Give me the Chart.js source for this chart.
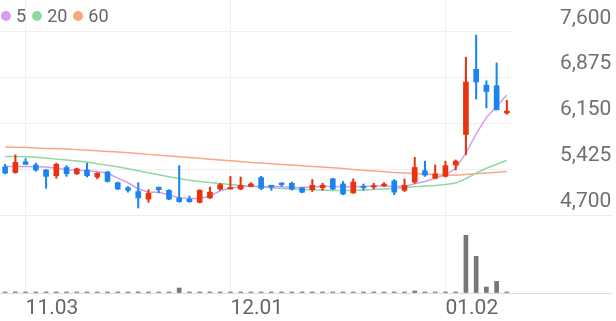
<!DOCTYPE html>
<html>
<head>
<meta charset="utf-8">
<script src="https://cdn.jsdelivr.net/npm/chart.js"></script>
<style>
  body { margin: 0; background: #fff; }
  #wrap { position: relative; width: 616px; height: 321px; }
  #chart { display: block; }
  #legend { position: absolute; left: 1px; top: 5px; display: flex; align-items: center; font: 18px Roboto, sans-serif; color: #666; }
  #legend .item { display: flex; align-items: center; margin-right: 6px; }
  #legend .dot { display: inline-block; width: 10px; height: 10px; border-radius: 50%; margin-right: 5px; }
</style>
</head>
<body>
<div id="wrap">
  <canvas id="chart" width="616" height="321"></canvas>
  <div id="legend"></div>
</div>
<script>
const dates = ['10.30','10.31','11.03','11.04','11.05','11.06','11.07','11.10','11.11','11.12',
  '11.13','11.14','11.17','11.18','11.19','11.20','11.21','11.24','11.25','11.26',
  '11.27','11.28','12.01','12.02','12.03','12.04','12.05','12.08','12.09','12.10',
  '12.11','12.12','12.15','12.16','12.17','12.18','12.19','12.22','12.23','12.24',
  '12.26','12.29','12.30','01.02','01.05','01.06','01.07','01.08','01.09','01.12'];
const tickDates = ['11.03', '12.01', '01.02'];
const priceTicks = [4700, 5425, 6150, 6875, 7600];

const opens = [5460, 5370, 5540, 5490, 5410, 5320, 5450, 5350, 5410, 5300,
  5380, 5210, 5130, 5070, 4950, 5140, 5090, 4970, 4950, 4900,
  4970, 5110, 5110, 5110, 5150, 5290, 5170, 5200, 5200, 5130,
  5100, 5130, 5270, 5190, 5050, 5150, 5140, 5160, 5240, 5090,
  5220, 5400, 5280, 5310, 5490, 5970, 7000, 6750, 6740, 6310];
const highs = [5500, 5650, 5590, 5520, 5420, 5520, 5480, 5440, 5520, 5370,
  5390, 5220, 5150, 5210, 5100, 5140, 5100, 5480, 5000, 5100,
  5140, 5200, 5310, 5300, 5210, 5310, 5170, 5210, 5220, 5140,
  5260, 5200, 5280, 5230, 5270, 5190, 5200, 5210, 5260, 5270,
  5610, 5550, 5490, 5550, 5570, 7190, 7540, 6820, 7100, 6510];
const lows = [5350, 5360, 5500, 5390, 5120, 5280, 5310, 5340, 5300, 5270,
  5220, 5100, 5060, 4810, 4900, 5050, 4940, 4900, 4900, 4890,
  4960, 5090, 5110, 5100, 5150, 5100, 5090, 5150, 5090, 5050,
  5070, 5090, 5100, 5020, 5040, 5090, 5110, 5150, 5020, 5070,
  5200, 5310, 5270, 5300, 5410, 5650, 6530, 6390, 6360, 6290];
const closes = [5360, 5530, 5500, 5410, 5310, 5500, 5350, 5430, 5320, 5360,
  5230, 5110, 5090, 4970, 5040, 5100, 4950, 4910, 4910, 5090,
  5060, 5180, 5130, 5170, 5190, 5120, 5140, 5180, 5110, 5060,
  5170, 5170, 5110, 5030, 5220, 5130, 5160, 5190, 5060, 5170,
  5450, 5330, 5350, 5480, 5550, 6800, 6800, 6650, 6360, 6340];

const ma5 = [5466, 5466, 5466, 5461, 5456, 5437, 5414, 5406, 5398, 5387,
  5362, 5283, 5209, 5114, 5059, 5059, 5020, 4968, 4962, 4962,
  4996, 5083, 5125, 5141, 5157, 5151, 5151, 5146, 5138, 5135,
  5141, 5151, 5151, 5146, 5146, 5151, 5157, 5157, 5151, 5151,
  5193, 5229, 5283, 5335, 5437, 5677, 5981, 6241, 6411, 6596];
const ma20 = [5623, 5622, 5619, 5611, 5598, 5582, 5567, 5552, 5535, 5508,
  5485, 5461, 5430, 5398, 5367, 5335, 5304, 5275, 5248, 5229,
  5214, 5196, 5182, 5166, 5151, 5141, 5130, 5119, 5110, 5103,
  5099, 5094, 5088, 5088, 5088, 5094, 5103, 5110, 5119, 5130,
  5146, 5157, 5166, 5182, 5204, 5272, 5362, 5437, 5501, 5564];
const ma60 = [5772, 5768, 5764, 5757, 5751, 5745, 5740, 5732, 5723, 5713,
  5704, 5693, 5682, 5669, 5657, 5644, 5631, 5619, 5606, 5594,
  5579, 5567, 5556, 5543, 5530, 5519, 5508, 5497, 5488, 5477,
  5466, 5456, 5445, 5433, 5420, 5408, 5395, 5382, 5371, 5362,
  5354, 5346, 5338, 5332, 5327, 5338, 5351, 5362, 5374, 5387];

// volume in thousand shares (scale has no labels)
const volumes = [12, 14, 10, 11, 13, 12, 9, 12, 10, 11,
  12, 13, 11, 14, 10, 9, 12, 64, 11, 10,
  12, 9, 10, 11, 12, 10, 9, 11, 10, 12,
  11, 10, 9, 12, 11, 10, 9, 11, 12, 10,
  26, 11, 10, 12, 11, 740, 470, 77, 150, 13];
const volumeMax = 1000;

const maLabels = ['5', '20', '60'];
const maColors = ['#d69cf0', '#8ed8a2', '#f7a882'];
const UP = '#e8330f';
const DOWN = '#1a85f0';
const FONT = 'Roboto';
const AXIS_W = 100;
const XAXIS_H = 28;

const candleColors = closes.map((c, i) => c >= opens[i] ? UP : DOWN);

// legend
const legendEl = document.getElementById('legend');
maLabels.forEach((name, i) => {
  const item = document.createElement('span');
  item.className = 'item';
  item.innerHTML = `<span class="dot" style="background:${maColors[i]}"></span>${name}`;
  legendEl.appendChild(item);
});

const maSeries = [ma5, ma20, ma60];

// keep the axes from pushing the plot area around
function tightFit(scale) {
  scale.paddingTop = 0;
  scale.paddingBottom = 0;
  scale.paddingLeft = 0;
  scale.paddingRight = 0;
  if (scale.isHorizontal()) scale.height = XAXIS_H;
  else scale.width = AXIS_W;
}

new Chart(document.getElementById('chart'), {
  type: 'bar',
  data: {
    labels: dates,
    datasets: [
      {
        label: 'body',
        data: opens.map((o, i) => [o, closes[i]]),
        backgroundColor: candleColors,
        barThickness: 5,
        minBarLength: 1.5,
        grouped: false,
        yAxisID: 'y',
        order: 1
      },
      {
        label: 'wick',
        data: lows.map((l, i) => [l, highs[i]]),
        backgroundColor: candleColors,
        barThickness: 1.4,
        grouped: false,
        yAxisID: 'y',
        order: 2
      },
      ...maSeries.map((s, i) => ({
        type: 'line',
        label: 'MA' + maLabels[i],
        data: s,
        borderColor: maColors[i],
        borderWidth: 1.5,
        pointRadius: 0,
        tension: 0,
        yAxisID: 'y',
        order: 3
      })),
      {
        label: 'volume',
        data: volumes,
        backgroundColor: '#777',
        barThickness: 4,
        minBarLength: 1,
        grouped: false,
        yAxisID: 'yv',
        order: 4
      }
    ]
  },
  options: {
    responsive: false,
    animation: false,
    devicePixelRatio: 1,
    layout: { padding: { right: 4 }, autoPadding: false },
    plugins: {
      legend: { display: false },
      tooltip: { enabled: false }
    },
    scales: {
      x: {
        offset: true,
        grid: { offset: false, color: '#efefef', drawTicks: false },
        border: { display: false },
        ticks: {
          autoSkip: false,
          maxRotation: 0,
          align: 'start',
          padding: 3,
          color: '#666',
          font: { family: FONT, size: 21 },
          callback: (v) => dates[v]
        },
        afterBuildTicks: (scale) => {
          scale.ticks = scale.ticks.filter(t => tickDates.includes(dates[t.value]));
        },
        afterFit: tightFit
      },
      y: {
        position: 'right',
        stack: 'panels',
        stackWeight: 215,
        min: 4700,
        max: 8094,
        grid: { color: '#efefef', drawTicks: false },
        border: { display: false },
        ticks: {
          autoSkip: false,
          color: '#707070',
          padding: 48,
          labelOffset: -13,
          font: { family: FONT, size: 21 },
          callback: (v) => v.toLocaleString('en-US')
        },
        afterBuildTicks: (scale) => {
          scale.ticks = priceTicks.map(v => ({ value: v }));
        },
        afterFit: tightFit
      },
      yv: {
        position: 'right',
        stack: 'panels',
        stackWeight: 78,
        min: 0,
        max: volumeMax,
        grid: {
          color: (ctx) => ctx.tick && ctx.tick.value === 0 ? '#dcdcdc' : '#ececec',
          tickLength: AXIS_W
        },
        border: { display: false },
        ticks: { display: false },
        afterBuildTicks: (scale) => {
          scale.ticks = [{ value: 0 }, { value: volumeMax }];
        },
        afterFit: tightFit
      }
    }
  }
});
</script>
</body>
</html>
